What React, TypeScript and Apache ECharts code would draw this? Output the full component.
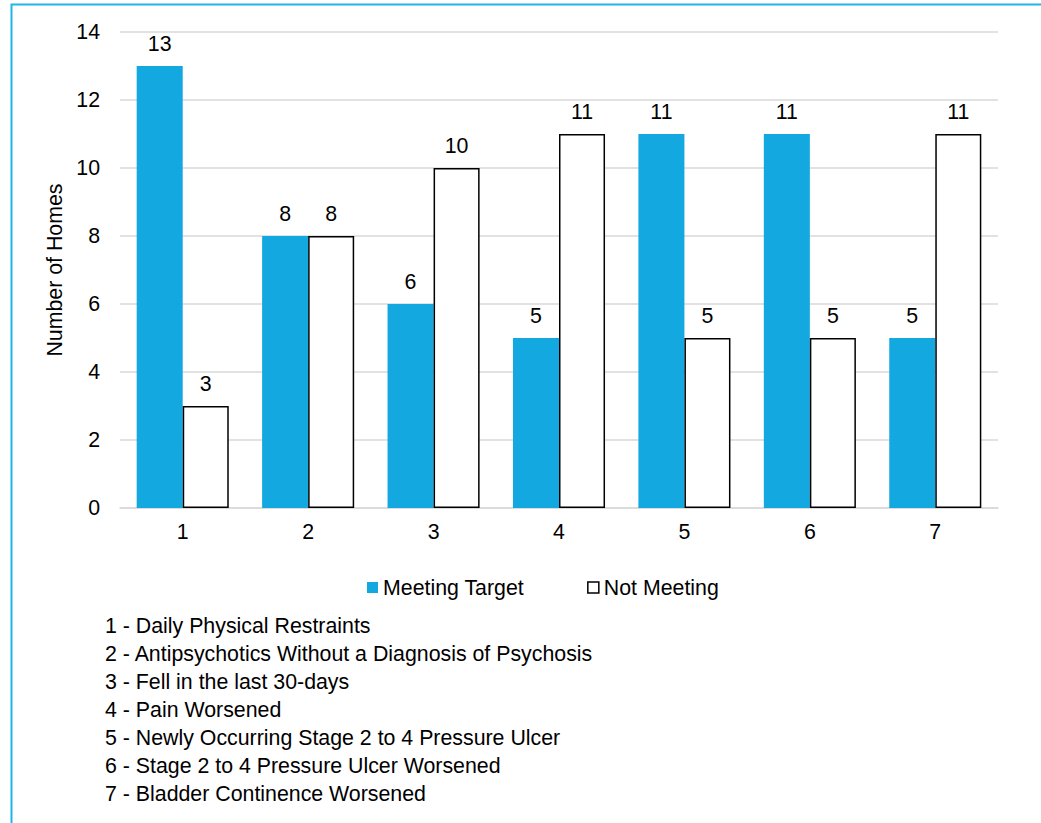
import React, { useEffect, useRef } from "react";
import * as echarts from "echarts";

const categories = ["1", "2", "3", "4", "5", "6", "7"];
const meetingTarget = [13, 8, 6, 5, 11, 11, 5];
const notMeeting = [3, 8, 10, 11, 5, 5, 11];
const yTicks = { min: 0, max: 14, interval: 2 };
const notes = [
  "1 - Daily Physical Restraints",
  "2 - Antipsychotics Without a Diagnosis of Psychosis",
  "3 - Fell in the last 30-days",
  "4 - Pain Worsened",
  "5 - Newly Occurring Stage 2 to 4 Pressure Ulcer",
  "6 - Stage 2 to 4 Pressure Ulcer Worsened",
  "7 - Bladder Continence Worsened",
];

const FONT = "Liberation Sans, Arial, sans-serif";
const FS = 21.33;

export default function App() {
  const ref = useRef<HTMLDivElement>(null);
  useEffect(() => {
    if (!ref.current) return;
    const chart = echarts.init(ref.current, null, { renderer: "svg" });
    const labelStyle = {
      show: true,
      position: "top" as const,
      distance: 12,
      color: "#000",
      fontSize: FS,
      fontFamily: FONT,
    };
    chart.setOption({
      animation: false,
      backgroundColor: "#fff",
      textStyle: { fontFamily: FONT },
      grid: { left: 120, right: 43, top: 32, bottom: 315 },
      legend: {
        top: 572,
        left: 362,
        itemWidth: 11,
        itemHeight: 11,
        itemGap: 63,
        icon: "rect",
        textStyle: { fontSize: FS, color: "#000", fontFamily: FONT },
        data: [
          { name: "Meeting Target", itemStyle: { color: "#13A8E0", borderWidth: 0 } },
          {
            name: "Not Meeting",
            itemStyle: { color: "#fff", borderColor: "#000", borderWidth: 1.5 },
          },
        ],
      },
      xAxis: {
        type: "category",
        data: categories,
        axisLine: { lineStyle: { color: "#D9D9D9", width: 1.5 } },
        axisTick: { show: false },
        axisLabel: { color: "#000", fontSize: FS, margin: 13, fontFamily: FONT },
      },
      yAxis: {
        type: "value",
        min: yTicks.min,
        max: yTicks.max,
        interval: yTicks.interval,
        name: "Number of Homes",
        nameLocation: "middle",
        nameGap: 48,
        nameTextStyle: { color: "#000", fontSize: FS, fontFamily: FONT },
        axisLine: { show: false },
        axisTick: { show: false },
        axisLabel: { color: "#000", fontSize: FS, margin: 20, fontFamily: FONT },
        splitLine: { lineStyle: { color: "#D9D9D9", width: 1.5 } },
      },
      series: [
        {
          name: "Meeting Target",
          type: "bar",
          data: meetingTarget,
          barGap: "0%",
          barCategoryGap: "26.6%",
          itemStyle: { color: "#13A8E0" },
          label: labelStyle,
        },
        {
          name: "Not Meeting",
          type: "bar",
          data: notMeeting,
          barGap: "0%",
          barCategoryGap: "26.6%",
          itemStyle: { color: "#fff", borderColor: "#000", borderWidth: 1.5 },
          label: labelStyle,
        },
      ],
      graphic: [
        {
          type: "rect",
          shape: { x: 11.5, y: 4.5, width: 1100, height: 900 },
          style: { fill: "none", stroke: "#1FB5E8", lineWidth: 2 },
          silent: true,
        },
        {
          type: "text",
          left: 105,
          top: 612,
          style: {
            text: notes.join("\n"),
            fontSize: FS,
            lineHeight: 28,
            fill: "#000",
            fontFamily: FONT,
          },
        },
      ],
    });
    return () => chart.dispose();
  }, []);
  return (
    <div
      ref={ref}
      style={{ position: "absolute", left: 0, top: 0, width: 1041, height: 823 }}
    />
  );
}
